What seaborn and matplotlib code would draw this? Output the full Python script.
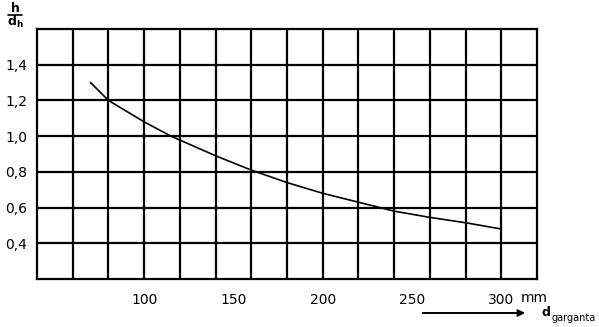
import matplotlib
matplotlib.use("Agg")
import matplotlib.pyplot as plt
from matplotlib.lines import Line2D
import seaborn as sns
import pandas as pd
import numpy as np

# data
d_garganta = [70, 80, 100, 115, 140, 160, 180, 200, 220, 240, 260, 280, 300]
h_over_dh = [1.30, 1.20, 1.08, 1.00, 0.89, 0.81, 0.74, 0.68, 0.63, 0.58, 0.545, 0.515, 0.48]

x_major = [60, 100, 150, 200, 250, 300]
x_major_labels = ["", "100", "150", "200", "250", "300"]
x_grid = list(range(40, 341, 20))
y_ticks = [0.4, 0.6, 0.8, 1.0, 1.2, 1.4]
y_labels = ["0,4", "0,6", "0,8", "1,0", "1,2", "1,4"]

sns.set_style("white")
plt.rcParams['font.family'] = ['DejaVu Sans']

W, H = 599, 327
fig = plt.figure(figsize=(W / 100, H / 100), dpi=100)
ax = fig.add_axes([37 / W, 1 - 279 / H, (537 - 37) / W, (279 - 29) / H])

df = pd.DataFrame({"d": d_garganta, "h": h_over_dh})
sns.lineplot(data=df, x="d", y="h", ax=ax, color="black", linewidth=1.2)

ax.set_xlim(40, 320)
ax.set_ylim(0.2, 1.6)

lw = 1.6
ax.xaxis.remove_overlapping_locs = False
ax.set_xticks(x_major)
ax.set_xticklabels(x_major_labels, fontsize=10)
ax.set_xticks(x_grid[1:-2], minor=True)
ax.set_yticks(y_ticks)
ax.set_yticklabels(y_labels, fontsize=10)

ax.tick_params(axis="x", which="major", direction="out", length=6, width=lw,
               color="black", pad=4, labelcolor="black")
ax.tick_params(axis="x", which="minor", length=0)
ax.tick_params(axis="y", which="major", direction="out", length=5, width=1.0,
               color="black", pad=2, labelcolor="black")

ax.grid(False)
ax.xaxis.grid(True, which="minor", color="black", linewidth=lw)
ax.yaxis.grid(True, which="major", color="black", linewidth=lw)
ax.set_axisbelow(True)

for s in ax.spines.values():
    s.set_visible(True)
    s.set_color("black")
    s.set_linewidth(lw)

ax.set_xlabel("")
ax.set_ylabel("")

# y-axis label as fraction h / d_h
fig.text(15 / W, 1 - 8 / H, "h", fontsize=9, fontweight="bold",
         ha="center", va="center", color="black")
fig.add_artist(Line2D([8 / W, 22 / W], [1 - 14.5 / H, 1 - 14.5 / H],
                      color="black", linewidth=1.2, transform=fig.transFigure))
fig.text(15 / W, 1 - 22 / H, r"$\mathbf{d_h}$", fontsize=9,
         ha="center", va="center", color="black")

# 'mm' unit after 300
fig.text(521 / W, 1 - 298 / H, "mm", fontsize=10, ha="left", va="center", color="black")

# arrow and d_garganta label
ax.annotate("", xy=(528 / W, 1 - 313 / H), xytext=(420 / W, 1 - 313 / H),
            xycoords="figure fraction", textcoords="figure fraction",
            arrowprops=dict(arrowstyle="-|>", color="black", lw=1.4,
                            mutation_scale=10))
fig.text(542 / W, 1 - 312 / H, "d", fontsize=9, fontweight="bold",
         ha="left", va="center", color="black")
fig.text(551 / W, 1 - 318 / H, "garganta", fontsize=7,
         ha="left", va="center", color="black")

fig.savefig("out.png", dpi=100, facecolor="white")
